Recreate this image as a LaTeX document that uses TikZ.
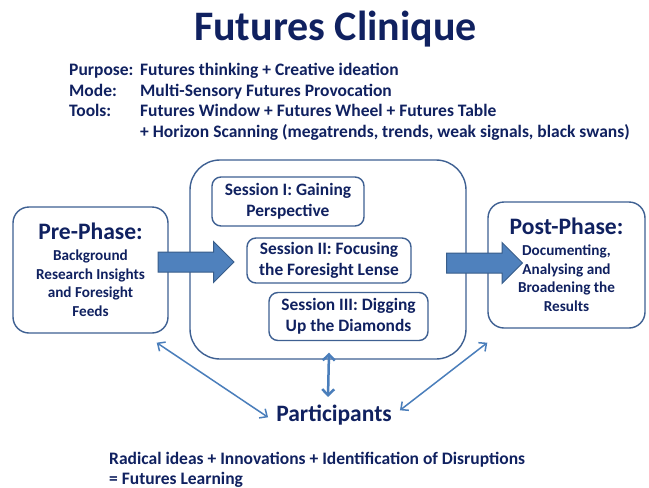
\documentclass[tikz,border=0pt]{standalone}
\usepackage{fontspec}
\setmainfont{Carlito}
\usetikzlibrary{shapes.arrows,arrows.meta,positioning}
\definecolor{navy}{RGB}{16,33,96}
\definecolor{boxline}{RGB}{62,96,146}
\definecolor{arrowfill}{RGB}{79,129,189}
\definecolor{arrowline}{RGB}{56,93,138}
\definecolor{linkblue}{RGB}{74,126,187}
\def\hfont{\bfseries\fontsize{17.5}{20}\selectfont}

\begin{document}
\begin{tikzpicture}[x=1pt,y=-1pt,
    phase/.style={draw=boxline, line width=1.4pt, rounded corners=16pt, text=navy,
        align=center, inner sep=0pt, minimum width=155pt, minimum height=126pt,
        font=\bfseries\fontsize{15.2}{18.5}\selectfont},
    session/.style={draw=boxline, line width=1.4pt, rounded corners=9pt, text=navy,
        align=center, inner sep=0pt, font=\bfseries\fontsize{17.4}{20.5}\selectfont},
    fatarrow/.style={single arrow, draw=arrowline, fill=arrowfill, line width=1pt,
        inner xsep=0pt, inner ysep=9.5pt, minimum height=76pt,
        single arrow head extend=10.5pt},
    plain/.style={text=navy, inner sep=0pt, anchor=base west, font=\hfont},
    link/.style={draw=linkblue, line width=1.5pt, <->,
        >={Straight Barb[length=6pt,width=11pt]}}]
    \fill[white] (0,0) rectangle (649,488);
    \useasboundingbox (0,0) rectangle (649,488);
    % title and header
    \node[text=navy, font=\bfseries\fontsize{42}{44}\selectfont, anchor=base] (title) at (335.5,40) {Futures Clinique};
    \node[plain] (purpose) at (69,75.5) {Purpose:};
    \node[plain] (purposetxt) at (140,75.5) {Futures thinking + Creative ideation};
    \node[plain] (mode) at (69,96) {Mode:};
    \node[plain] (modetxt) at (140,96) {Multi-Sensory Futures Provocation};
    \node[plain] (tools) at (69,116.5) {Tools:};
    \node[plain] (toolstxt) at (140,116.5) {Futures Window + Futures Wheel + Futures Table};
    \node[plain] (toolsmore) at (140,137) {+ Horizon Scanning (megatrends, trends, weak signals, black swans)};
    % phases
    \node[phase] (pre) at (90.5,270) {{\fontsize{23.6}{22}\selectfont Pre-Phase:}\\[2.5pt]Background\\Research Insights\\and Foresight\\Feeds};
    \node[draw=boxline, line width=1.4pt, rounded corners=30pt, minimum width=276pt, minimum height=199pt] (frame) at (328,259.5) {};
    \node[session, minimum width=152pt, minimum height=49pt] (s1) at (288,201.5) {Session I: Gaining\\Perspective};
    \node[session, minimum width=164pt, minimum height=45pt] (s2) at (329,260.5) {Session II: Focusing\\the Foresight Lense};
    \node[session, minimum width=159pt, minimum height=48pt] (s3) at (348.5,316.5) {Session III: Digging\\Up the Diamonds};
    \node[phase, minimum height=126pt, minimum width=157pt] (post) at (566.5,265) {{\fontsize{23.6}{22}\selectfont Post-Phase:}\\[2.5pt]Documenting,\\Analysing and\\Broadening the\\Results};
    \node[fatarrow] (arrin) at (191,262) {};
    \node[fatarrow] (arrout) at (479.5,263) {};
    % participants
    \node[text=navy, inner sep=3pt, anchor=base, font=\bfseries\fontsize{23.5}{26}\selectfont] (part) at (334,421.7) {Participants};
    \draw[link] ([shift={(-12,9)}]pre.south east) -- ([shift={(-5,2)}]part.west);
    \draw[link, line width=2.5pt, >={Straight Barb[length=6pt,width=12pt]}] ([shift={(1,-7)}]frame.south) -- ([shift={(0,-5)}]part.north -| frame.south);
    \draw[link] ([shift={(0,14)}]post.south west) -- ([shift={(5,-5)}]part.east);
    % outcome
    \node[plain] (result) at (109,464) {Radical ideas + Innovations + Identification of Disruptions};
    \node[plain] (resulttwo) at (109,484) {= Futures Learning};
\end{tikzpicture}
\end{document}
